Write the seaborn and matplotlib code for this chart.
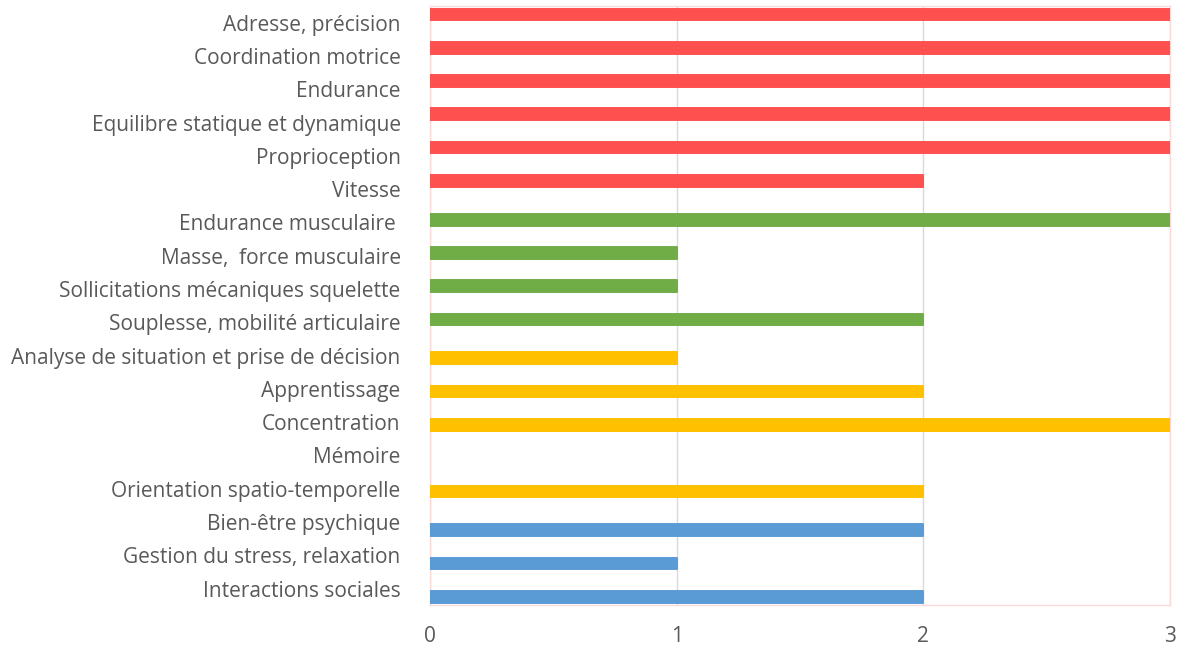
import matplotlib
matplotlib.use("Agg")
import matplotlib.pyplot as plt
import pandas as pd
import seaborn as sns

# categories, top to bottom, with their group and score
categories = [
    "Adresse, précision",
    "Coordination motrice",
    "Endurance",
    "Equilibre statique et dynamique",
    "Proprioception",
    "Vitesse",
    "Endurance musculaire ",
    "Masse,  force musculaire",
    "Sollicitations mécaniques squelette",
    "Souplesse, mobilité articulaire",
    "Analyse de situation et prise de décision",
    "Apprentissage",
    "Concentration",
    "Mémoire",
    "Orientation spatio-temporelle",
    "Bien-être psychique",
    "Gestion du stress, relaxation",
    "Interactions sociales",
]
groups = ["moteur"] * 6 + ["physique"] * 4 + ["cognitif"] * 5 + ["social"] * 3
scores = [3, 3, 3, 3, 3, 2, 3, 1, 1, 2, 1, 2, 3, 0, 2, 2, 1, 2]
xticks = [0, 1, 2, 3]

group_order = ["moteur", "physique", "cognitif", "social"]
group_colors = {"moteur": "#FF5050", "physique": "#70AD47",
                "cognitif": "#FFC000", "social": "#5B9BD5"}
# vertical shift of each group's bars inside its category band (Excel clustered look)
group_shift = {"moteur": -0.247, "physique": -0.082, "cognitif": 0.082, "social": 0.247}

df = pd.DataFrame({"categorie": categories, "groupe": groups, "score": scores})

sns.set_style("white")
plt.rcParams["font.family"] = ["Open Sans", "DejaVu Sans"]
text_color = "#595959"

fig = plt.figure(figsize=(11.81, 6.48), dpi=100)
ax = fig.add_axes([0.364, 0.066, 0.6267, 0.9247])

for g in group_order:
    sub = df[df["groupe"] == g]
    n_before = len(ax.patches)
    sns.barplot(data=sub, x="score", y="categorie", order=categories,
                orient="h", color=group_colors[g], width=0.35,
                saturation=1, errorbar=None, ax=ax)
    for p in ax.patches[n_before:]:
        p.set_y(p.get_y() + group_shift[g])
        # thin edge in the same colour with round joins -> softly rounded ends
        p.set_edgecolor(group_colors[g])
        p.set_linewidth(1.4)
        p.set_joinstyle("round")
        p.set_zorder(3)
        if p.get_width() == 0:
            p.set_visible(False)

ax.set_xlim(0, 3)
ax.set_ylim(len(categories) - 0.5, -0.5)
ax.set_xticks(xticks)
ax.set_xticklabels([str(t) for t in xticks])
ax.set_xlabel("")
ax.set_ylabel("")
ax.tick_params(axis="both", length=0, colors=text_color, labelsize=15)
ax.tick_params(axis="y", pad=21)
ax.tick_params(axis="x", pad=15)

ax.grid(axis="x", color="#D9D9D9", linewidth=1.0, zorder=0)
ax.grid(axis="y", visible=False)
ax.set_axisbelow(True)
for side in ["top", "bottom", "left", "right"]:
    ax.spines[side].set_visible(True)
    ax.spines[side].set_color("#FBDADA")
    ax.spines[side].set_linewidth(1.0)

fig.savefig("out.png", dpi=100)
